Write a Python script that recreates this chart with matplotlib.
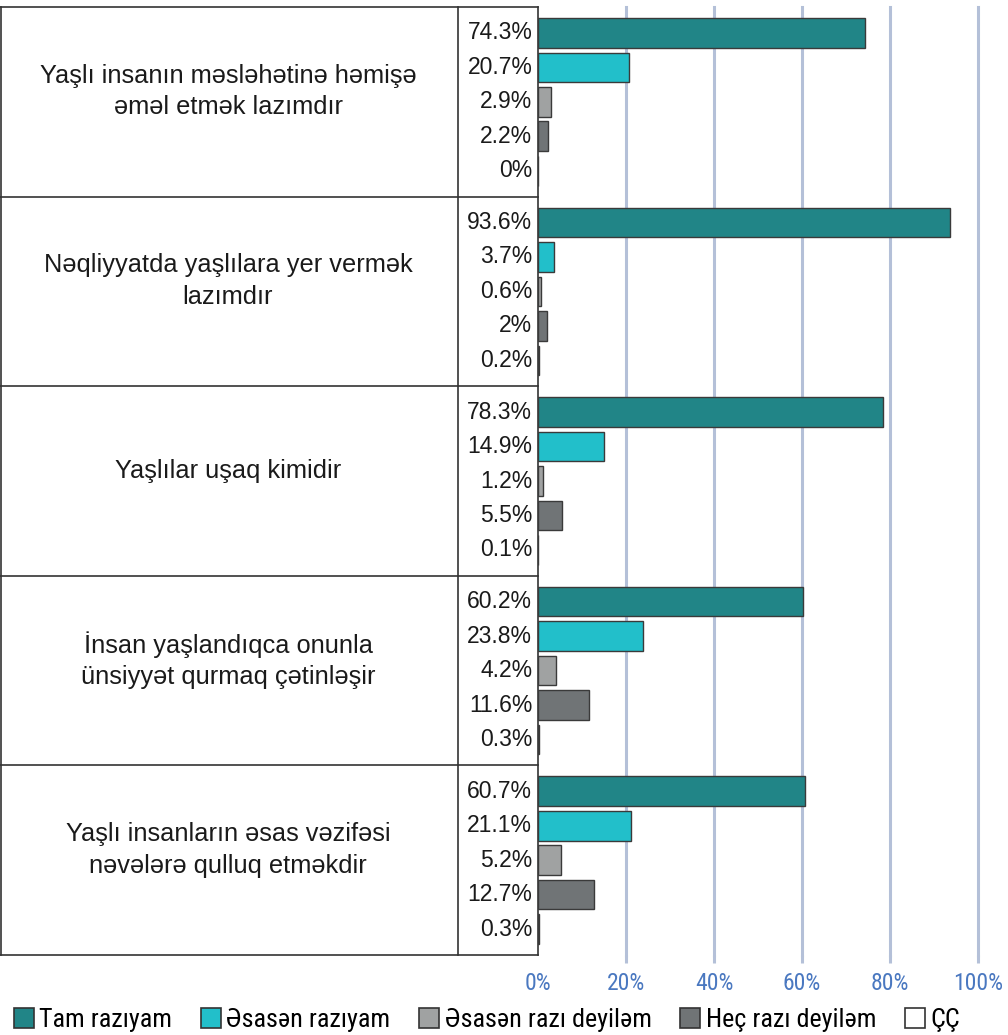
import matplotlib
matplotlib.use("Agg")
import matplotlib.pyplot as plt
from matplotlib.patches import Patch
from matplotlib.font_manager import FontProperties
import matplotlib.font_manager as fm
import matplotlib.transforms as mtransforms
from matplotlib.lines import Line2D

categories = [
    "Yaşlı insanın məsləhətinə həmişə\nəməl etmək lazımdır",
    "Nəqliyyatda yaşlılara yer vermək\nlazımdır",
    "Yaşlılar uşaq kimidir",
    "İnsan yaşlandıqca onunla\nünsiyyət qurmaq çətinləşir",
    "Yaşlı insanların əsas vəzifəsi\nnəvələrə qulluq etməkdir",
]
series_names = ["Tam razıyam", "Əsasən razıyam", "Əsasən razı deyiləm", "Heç razı deyiləm", "ÇÇ"]
values = [
    [74.3, 20.7, 2.9, 2.2, 0.0],
    [93.6, 3.7, 0.6, 2.0, 0.2],
    [78.3, 14.9, 1.2, 5.5, 0.1],
    [60.2, 23.8, 4.2, 11.6, 0.3],
    [60.7, 21.1, 5.2, 12.7, 0.3],
]
label_texts = [
    ["74.3%", "20.7%", "2.9%", "2.2%", "0%"],
    ["93.6%", "3.7%", "0.6%", "2%", "0.2%"],
    ["78.3%", "14.9%", "1.2%", "5.5%", "0.1%"],
    ["60.2%", "23.8%", "4.2%", "11.6%", "0.3%"],
    ["60.7%", "21.1%", "5.2%", "12.7%", "0.3%"],
]
xticks = [0, 20, 40, 60, 80, 100]
xticklabels = ["0%", "20%", "40%", "60%", "80%", "100%"]
colors = ["#218587", "#22bfca", "#a0a2a2", "#707476", "#ffffff"]

names = {f.name for f in fm.fontManager.ttflist}
narrow = "Liberation Sans Narrow" if "Liberation Sans Narrow" in names else "Roboto Condensed" if "Roboto Condensed" in names else "Liberation Sans"
plt.rcParams['font.family'] = ['Liberation Sans', 'DejaVu Sans']

W, H = 1008, 1035
fig = plt.figure(figsize=(W / 100, H / 100), dpi=100)
ax_l, ax_r, ax_t, ax_b = 538, 978, 7, 955
ax = fig.add_axes([ax_l / W, 1 - ax_b / H, (ax_r - ax_l) / W, (ax_b - ax_t) / H])

G = 5.5
off = 0.75
ymax = len(categories) * G - off
ax.set_xlim(0, 100)
ax.set_ylim(ymax, -off)

for g, row in enumerate(values):
    for i, v in enumerate(row):
        y = g * G + i
        ax.barh(y, v, height=0.86, color=colors[i], edgecolor="#3a3a3a", linewidth=1.0, zorder=3)
        ax.text(-0.013, y, label_texts[g][i], transform=ax.get_yaxis_transform(),
                ha="right", va="center", fontsize=16.5, color="#1a1a1a")

for s in ["top", "right", "bottom"]:
    ax.spines[s].set_visible(False)
ax.spines["left"].set_color("#333333")
ax.spines["left"].set_linewidth(1.2)
ax.set_yticks([])
ax.set_xticks(xticks)
ax.set_xticklabels(xticklabels, fontsize=17, color="#4a78c0", family=narrow)
ax.tick_params(axis="x", length=6, width=2.2, color="#b4c0d8", pad=6)
ax.xaxis.grid(True, color="#b4c0d8", linewidth=2.2, zorder=0)
ax.set_axisbelow(True)
for gl in ax.get_xgridlines():
    gl.set_clip_on(False)
ax.get_xgridlines()[0].set_visible(False)
ax.xaxis.get_major_ticks()[0].tick1line.set_visible(False)

def fx(px): return px / W
def fy(py): return 1 - py / H

btrans = mtransforms.blended_transform_factory(fig.transFigure, ax.transData)
for g in range(len(categories) + 1):
    yv = g * G - off
    fig.add_artist(Line2D([0, fx(ax_l)], [yv, yv], transform=btrans, color="#333333", linewidth=1.2))
fig.add_artist(Line2D([fx(458), fx(458)], [fy(ax_t), fy(ax_b)], transform=fig.transFigure, color="#333333", linewidth=1.2))
fig.add_artist(Line2D([fx(0.5), fx(0.5)], [fy(ax_t), fy(ax_b)], transform=fig.transFigure, color="#333333", linewidth=1.2))

for g, c in enumerate(categories):
    yc = g * G + 2 - 0.3
    t = fig.text(fx(228), 0, c, transform=btrans, ha="center", va="center", fontsize=18.3,
                 linespacing=1.4, color="#1a1a1a")
    t.set_position((fx(228), yc))

handles = [Patch(facecolor=colors[i], edgecolor="#333333", linewidth=1.2, label=series_names[i]) for i in range(5)]
leg = fig.legend(handles=handles, loc="center left", bbox_to_anchor=(fx(14), fy(1020)), ncol=5,
                 frameon=False, prop=FontProperties(family=narrow, size=18.8),
                 handlelength=0.77, handleheight=0.77, handletextpad=0.2, columnspacing=1.1,
                 borderaxespad=0, borderpad=0)

fig.savefig("out.png", dpi=100)
